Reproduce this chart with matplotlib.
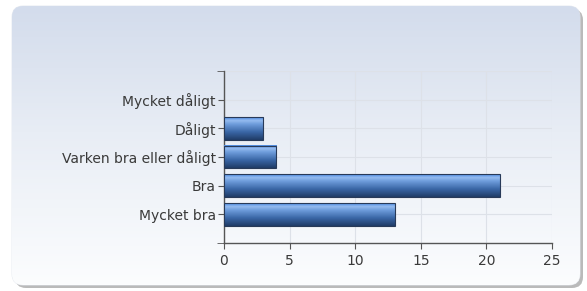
import numpy as np
import matplotlib.pyplot as plt
from matplotlib.patches import FancyBboxPatch
from matplotlib.colors import LinearSegmentedColormap

categories = ['Mycket bra', 'Bra', 'Varken bra eller dåligt', 'Dåligt', 'Mycket dåligt']
values = [13, 21, 4, 3, 0]
xticks = [0, 5, 10, 15, 20, 25]

W, H = 587, 291
fig = plt.figure(figsize=(W / 100, H / 100), dpi=100)

# background panel with rounded corners, shadow and gradient
bg = fig.add_axes([0, 0, 1, 1])
bg.set_xlim(0, W)
bg.set_ylim(0, H)
bg.axis('off')

shadow = FancyBboxPatch((15, 3), 568, 279, boxstyle='round,pad=0,rounding_size=11',
                        fc='#a9a9a9', ec='none', alpha=0.8)
bg.add_patch(shadow)
panel = FancyBboxPatch((12, 6), 568, 279, boxstyle='round,pad=0,rounding_size=11',
                       fc='none', ec='#e4e8ef', lw=0.6)
bg.add_patch(panel)
bg_cmap = LinearSegmentedColormap.from_list(
    'bg', [(0, '#fcfdfe'), (0.55, '#e8edf5'), (0.78, '#dde4f0'), (1, '#d3dcec')])
grad = np.linspace(0, 1, 256).reshape(-1, 1)
im = bg.imshow(grad, extent=[12, 580, 6, 285], origin='lower', cmap=bg_cmap,
               aspect='auto', zorder=1)
im.set_clip_path(panel)

# bar chart
ax = fig.add_axes([224 / W, 48 / H, 328 / W, 172 / H])
ax.patch.set_alpha(0)

bar_cmap = LinearSegmentedColormap.from_list(
    'bar', [(0, '#203c66'), (0.35, '#3a66a6'), (0.7, '#6f9edc'), (0.85, '#94bbef'), (1, '#4a8ae2')])
bar_h = 0.8
ypos = np.arange(len(categories))
for y, v in zip(ypos, values):
    if v <= 0:
        continue
    ax.imshow(grad, extent=[0, v, y - bar_h / 2, y + bar_h / 2], origin='lower',
              cmap=bar_cmap, aspect='auto', zorder=3)
    ax.barh(y, v, height=bar_h, fc='none', ec='#283a58', lw=0.8, zorder=4)

ax.set_xlim(0, 25)
ax.set_ylim(-1, len(categories))
ax.set_xticks(xticks)
ax.set_yticks(ypos)
ax.set_yticklabels(categories)
ax.set_yticks([-1, len(categories)], minor=True)
ax.grid(True, color='#dde1e8', lw=0.8, zorder=0)
ax.set_axisbelow(True)
ax.axhline(len(categories), color='#dde1e8', lw=0.8, zorder=0)

for s in ['top', 'right']:
    ax.spines[s].set_visible(False)
for s in ['left', 'bottom']:
    ax.spines[s].set_color('#555555')
    ax.spines[s].set_linewidth(1.0)
ax.tick_params(axis='both', which='both', length=4, color='#555555', labelsize=10,
               labelcolor='#3a3a3a', pad=2)
ax.tick_params(axis='x', pad=4)
ax.tick_params(axis='y', which='minor', length=5)

plt.savefig('out.png', dpi=100)
